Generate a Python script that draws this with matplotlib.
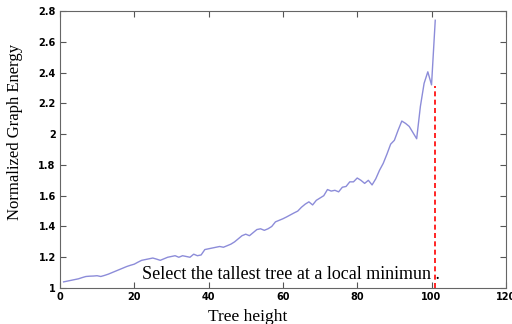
import matplotlib
matplotlib.use("Agg")
import matplotlib.pyplot as plt

tree_height = list(range(1, 102))
energy = [1.04, 1.045, 1.05, 1.055, 1.06, 1.068, 1.075, 1.077, 1.078, 1.08,
          1.075, 1.082, 1.09, 1.10, 1.11, 1.12, 1.13, 1.14, 1.148, 1.155,
          1.168, 1.18, 1.185, 1.19, 1.195, 1.188, 1.18, 1.19, 1.20, 1.205,
          1.21, 1.20, 1.21, 1.205, 1.20, 1.22, 1.21, 1.215, 1.25, 1.255,
          1.26, 1.265, 1.27, 1.265, 1.275, 1.285, 1.30, 1.32, 1.34, 1.35,
          1.34, 1.36, 1.38, 1.385, 1.375, 1.385, 1.40, 1.43, 1.44, 1.45,
          1.462, 1.475, 1.488, 1.50, 1.525, 1.545, 1.56, 1.54, 1.57, 1.585,
          1.60, 1.64, 1.63, 1.635, 1.625, 1.655, 1.66, 1.69, 1.69, 1.715,
          1.70, 1.68, 1.70, 1.67, 1.71, 1.765, 1.81, 1.87, 1.935, 1.96,
          2.025, 2.085, 2.07, 2.05, 2.01, 1.97, 2.18, 2.33, 2.405, 2.32,
          2.74]

selected_x = 101
selected_top = 2.31
annotation = "Select the tallest tree at a local minimun ."

fig = plt.figure(figsize=(5.12, 3.24), dpi=100)
ax = fig.add_axes([0.117, 0.111, 0.871, 0.855])
ax.plot(tree_height, energy, color=(0.55, 0.55, 0.85), lw=1.0)
ax.plot([selected_x, selected_x], [1, selected_top], color='red', ls=(0, (3, 2)), lw=1.2)

ax.set_xlim(0, 120)
ax.set_ylim(1, 2.8)
ax.set_xticks([0, 20, 40, 60, 80, 100, 120])
ax.set_yticks([1, 1.2, 1.4, 1.6, 1.8, 2, 2.2, 2.4, 2.6, 2.8])
ax.set_yticklabels(['1', '1.2', '1.4', '1.6', '1.8', '2', '2.2', '2.4', '2.6', '2.8'])
ax.tick_params(direction='in', top=True, right=True, length=4, width=0.8,
               colors='#555555', labelcolor='black', labelsize=7, pad=3)
for lab in ax.get_xticklabels() + ax.get_yticklabels():
    lab.set_fontweight('bold')
for s in ax.spines.values():
    s.set_color('#666666')
    s.set_linewidth(0.8)

ax.text(22, 1.085, annotation, family='Liberation Serif', fontsize=13,
        va='center', ha='left', zorder=1)
ax.set_xlabel('Tree height', family='Liberation Serif', fontsize=12.5)
ax.xaxis.set_label_coords(0.42, -0.075)
ax.set_ylabel('Normalized Graph Energy', family='Liberation Serif', fontsize=12)
ax.yaxis.set_label_coords(-0.083, 0.565)

fig.savefig('out.png', dpi=100)
